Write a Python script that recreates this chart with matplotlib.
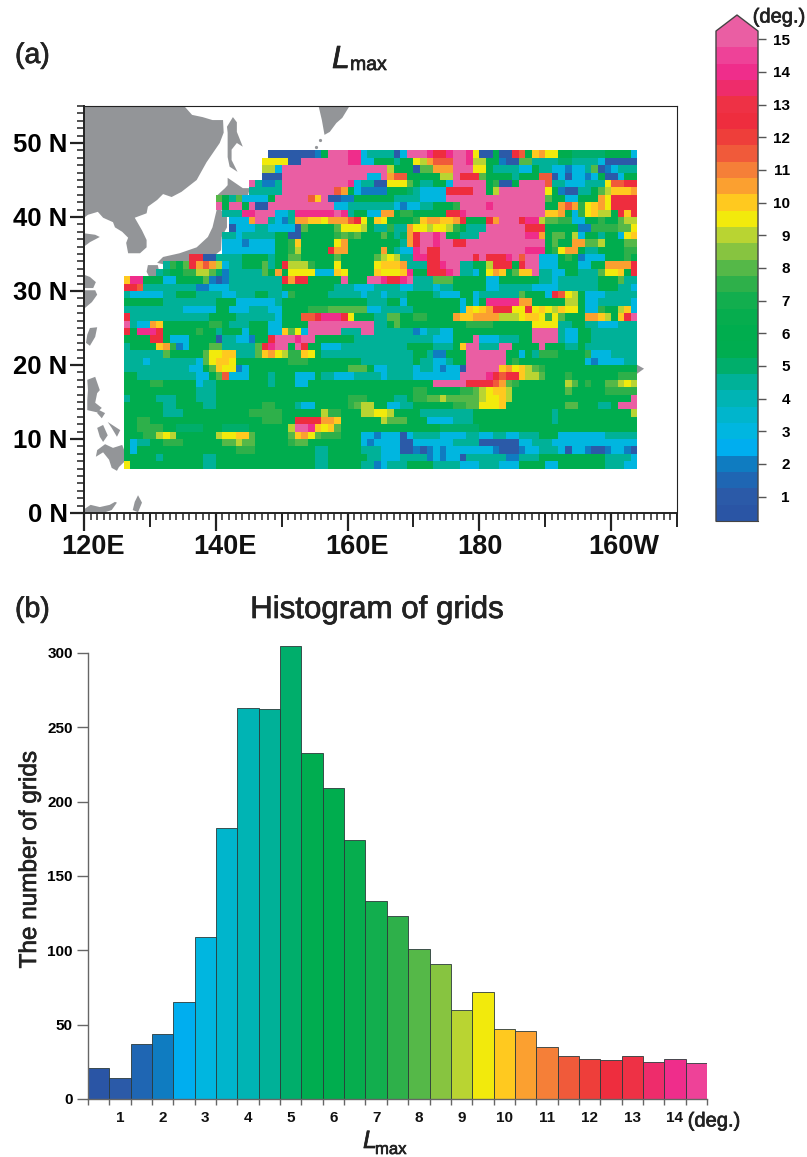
import numpy as np
import matplotlib
matplotlib.use('Agg')
import matplotlib.pyplot as plt
import matplotlib.patheffects as pe
from matplotlib.colors import ListedColormap, BoundaryNorm
from matplotlib.ticker import MultipleLocator

plt.rcParams['font.family'] = ['Liberation Sans', 'DejaVu Sans']

# colour bands, 0.5 deg wide, from 0.25 up to 15.25
band_colors = ['#2a55a5', '#2b5aa8', '#1f66b3', '#0f7cc1', '#00aeef', '#00b6e0', '#00b5cc', '#00b4b4',
               '#00b198', '#00ae6b', '#00ad50', '#00ad4e', '#06ad4e', '#12ae4e', '#2eb04a', '#55b848',
               '#87c440', '#b9d432', '#f2ea0c', '#ffc91f', '#fba030', '#f57f38', '#f05a3a', '#ee3e3a',
               '#ee2d3e', '#ee3145', '#ee2c6b', '#ef2d8b', '#ee4298', '#ea5ea3']
band_edges = [0.25 + 0.5 * i for i in range(31)]

# Lmax per 1 degree cell, top row is 48-49N, first column is 126-127E
class_values = {'1': 1, '2': 2, '3': 3, '4': 4.5, '5': 5, '6': 6, '7': 7.5, '8': 8, '9': 8.75,
                'y': 9.25, 'o': 9.75, 'r': 10.5, 's': 11.25, 'd': 12.25, 'e': 13.75, 'p': 15}
grid_rows = [
    ".......... .......... ..11111112 6pppee3444 413pppedde ppey11611d s6oryy6655 55566663",
    ".......... .......... .yyyy11ppp ppppee3366 6466y9rsss ppe9966211 8844445544 44311111",
    ".......... .......... .993pppppp pppppppppp 9666188rrr pppyy64444 3364433233 48123444",
    ".......... .......... .111pppppp ppppppp33p rss6666699 pddd866664 666ss13133 23611366",
    ".......... .........p 4224pppppp ppppe34411 yyy8644663 ppppp67116 pppps44333 444yssdd",
    ".......... .........4 4444pppppp ppsr632222 666543333d dddpp69ppp ppppy62114 4689ooor",
    ".......... ....864833 336pppppso p112266666 644443333p pppppppppp pppp866336 66rydddd",
    ".......... ....p6pp6p 11pppppppp pp33444444 4323344666 7ppppepppp pppp66rsr7 yorydddd",
    ".......... .....444ee ppp334eeee eepe46633r r67766666d depppppppp ppppoor637 yo996dod",
    ".......... ......333r pp4324rroo yrrrsdy6oy 66667orroo rd666drppp dee9887733 66766899",
    ".......... ......1333 4433331866 668yyy9644 744ryy9yy9 76444ppppp pddd666662 2777788y",
    ".......... .....44344 4446611666 6678786668 645rdppep6 6444pppppp peer688693 664663yo",
    ".......... .....33323 333667o666 66yr666666 664rdppepp ddpppppppp pppp6866rr 88966688",
    ".......... .....33333 3336679666 6drr66666r 6433epddpp pppppppppp peee67yrr6 44666677",
    ".......... dd11444466 6646688666 6686666689 y944eeddpp pppdpdddep spp3336762 33366676",
    "......4768 drsr934466 6846d99976 66y66666yo oor444ddep p44669ddd6 dpp3336663 366rrrrd",
    ".....45667 7998524444 486r6yyyy3 33oy6666oy yyoe66ddde p4436yro68 oop4433664 448yyo6d",
    "oee6663366 6682124444 4444drdd66 666p666ppe ddep444888 6666633666 6664434444 44666844",
    "dds4444444 4223334444 4444666666 6644433344 4433444344 6666633444 4433334444 44666443",
    "4333334466 6444433444 6644376666 6444443443 4446666433 3663444444 86663dsy96 33344444",
    "6666664444 4444666333 3334666666 6666666444 6636666666 63636eeeee rr66666996 33444443",
    "4444444443 3333663334 4433666677 7888888334 4444666666 63oyordddy ydyoy9oyy6 337669o3",
    "d444444444 4446666444 4443666ssd eeedy66644 8866776666 roorrrr999 yooy7y8666 rro96odp",
    "p433ro6666 6667764446 66336666pp pppppppp44 6866666666 6677776666 66yyyy4466 44333444",
    "d6eeed6666 6766466636 6633o8y3pp ppp444pp44 4444234433 6666666666 66pppp4336 64444444",
    "6666dd6333 6666144332 66dpppepp6 6666644444 4444444333 666p333444 66pppp4336 64444444",
    "46666or723 6668844444 8depp6pd66 3334444444 4446666444 6opp444pp6 666p666446 44444444",
    "4444448666 668yyoo444 8ory977oy6 4444444444 4444664226 66pppppp66 3647776666 73334444",
    "4443444444 438yooy666 6666677766 6666664444 4444644334 66pppppp67 6666666666 32333344",
    "4444444444 3368oyy236 6666666666 6666888633 4444344323 31pppppory o987666666 66666666",
    "6644444444 43368s3336 6646663336 4433344443 4444333333 3ppppedsdd o998666766 66666777",
    "6666776666 6344666666 6646663366 6666666666 6666666ppp ppddddsr87 6666666986 766889y9",
    "6666666666 6444666666 6666666666 6666666666 6666776666 67789yoo96 6666666866 66677777",
    "4666644466 6444666666 6666666666 6666777666 6446778898 88889yyo96 6666666666 6666666p",
    "6666664466 6644666666 6776664336 6666789966 3344666666 7788yyyo66 6666666886 66446ppp",
    "6666664446 6666666667 7777666666 97766699yy 9666644444 4446666666 6666646666 66666669",
    "6677666666 6666666666 677766dddd rro6666669 8886663333 4446666666 6666646666 66666666",
    "6677776655 5566655556 666669ppeo yo86666666 6666666655 5555666666 6666666666 66666666",
    "666779y966 66669yyoo8 666668ory8 7776663323 3313444433 3344334433 4446663333 33344444",
    "6344667776 6666688988 6666678866 6666663233 3311333333 4444111111 3344433333 33333333",
    "6366666666 6666666777 6666666664 4666664443 3311212323 3333332111 2334443133 21123321",
    "6666646666 6644666666 6666666664 4666666443 3344442323 3144444422 4446666666 66644443",
    "y666666666 6644666666 6666666664 4666664423 4446666444 4333444333 6666336666 66644433",
]

# coastlines, lon/lat
continent = [(120, 55), (135.2, 55), (136.4, 53.8), (138, 53.5), (139.5, 53.1), (141.1, 53.1), (141.2, 51.4),
             (140.6, 50), (138.6, 47.4), (137.1, 45), (134.8, 43.4), (133.3, 42.7), (132, 43.1), (131.1, 42.3),
             (129.7, 41.4), (129.5, 40.5), (127.7, 39.9), (128.8, 38.2), (129.5, 36.9), (129.5, 35.9), (128.5, 35.1),
             (126.7, 35.1), (126.4, 36.5), (126.7, 37.2), (125.8, 38), (124.7, 38.6), (124.4, 39.3), (122.9, 39.9),
             (122.1, 40.7), (120.6, 40.3), (120, 39.9)]
islands = [
    [(120, 37.8), (121.7, 37.6), (122.4, 37.3), (120.9, 36.6), (120, 36)],
    [(120, 32.2), (120.9, 31.9), (121.8, 31.2), (121.4, 30.4), (120, 30.4)],
    [(120, 30.1), (121.7, 30.1), (122, 29.5), (121.2, 28.5), (120, 27.6)],
    [(120.9, 25), (122, 25.1), (121.7, 23.8), (120.9, 22.6), (120.3, 23), (120.5, 24.1)],
    [(120.5, 18), (121.7, 18.4), (122.4, 16.6), (122, 16.2), (121.7, 14.9), (122.7, 14.2), (122, 13.6),
     (120.5, 13.9), (120.5, 15.3), (120.6, 16.6)],
    [(125.8, 9.2), (126.1, 8.5), (126.1, 6.9), (125.3, 6.2), (125, 5.7), (124.2, 6.1), (123.8, 7.2), (122.9, 8.2),
     (121.8, 7.6), (122, 8.5), (123.2, 9.3), (124.4, 8.8)],
    [(122, 11.5), (122.9, 11.9), (123.6, 10.5), (122.9, 9.6), (122.4, 10.3)],
    [(123.6, 12.3), (125.5, 11.2), (125, 10.3), (124.2, 11.5)],
    [(122.1, 14), (123.2, 13.5), (122.7, 12.8), (122, 13.5)],
    [(120, 0.5), (121, 1.1), (122.4, 0.8), (123.9, 1.1), (124.7, 1.5), (125, 1.4), (124.2, 0.4), (123.2, 0.1), (120, 0.1)],
    [(128.2, 2.4), (128.8, 1.4), (128.2, 0.1), (127.4, 0.4), (127.7, 1.5)],
    [(141.8, 45.3), (144.1, 43.9), (145.2, 43.9), (144.8, 42.7), (143.2, 42.7), (141.4, 42.7), (140.2, 42.7),
     (140.3, 43), (141.4, 43.9), (141.8, 44.3)],
    [(141.7, 52.2), (142.6, 53.5), (143.2, 52.8), (143.2, 51.5), (144.1, 49.5), (143.2, 50), (142.4, 49.1),
     (142.4, 47.7), (143.3, 46.1), (142.1, 46.8), (141.8, 48.1), (141.8, 50), (141.8, 51.4)],
    [(155.6, 55), (160.3, 55), (159.2, 53.4), (158.3, 52.7), (157.3, 51.5), (156.5, 51.1), (156.1, 53.1)],
    [(140.2, 41.2), (141.7, 40.5), (141.7, 38.6), (140.9, 37.3), (140.8, 35.5), (139.5, 34.6), (137.6, 34.2),
     (135.6, 33.8), (132.6, 33.5), (131.1, 33.8), (132, 34.6), (134.5, 35.1), (137.1, 35.9), (138.8, 37.3), (139.5, 38.6)],
    [(129.7, 33.5), (131.2, 33.5), (131.5, 32.2), (130.3, 31.2), (129.5, 32.6)],
    [(132, 33.9), (134.1, 33.8), (133, 33.1), (132, 33.2)],
    [(203.8, 20.1), (205, 19.5), (203.9, 18.8)],
]
small_isles_lon = [200.2, 201.7, 203.2, 155.2, 155.8]
small_isles_lat = [22, 21.4, 20.7, 49.4, 50.4]

lon_ticks = [120, 140, 160, 180, 200]
lon_labels = ['120E', '140E', '160E', '180', '160W']
lon_label_shift = [1.4, 1.4, 1.4, 0.1, 1.9]
lat_ticks = [0, 10, 20, 30, 40, 50]
lat_labels = ['0 N', '10 N', '20 N', '30 N', '40 N', '50 N']

# histogram, one bar per colour band
hist_counts = [21, 14, 37, 44, 65, 109, 182, 263, 262, 305, 233, 209, 174, 133, 123, 101, 91, 60, 72, 47,
               46, 35, 29, 27, 26, 29, 25, 27, 24]
hist_ticks = [0, 50, 100, 150, 200, 250, 300]
hist_labels = [1, 2, 3, 4, 5, 6, 7, 8, 9, 10, 11, 12, 13, 14]
cbar_ticks = list(range(1, 16))

W, H = 807, 1157
heavy = [pe.withStroke(linewidth=0.5, foreground='#222222')]


def px_axes(left, top, right, bottom):
    return fig.add_axes([left / W, 1 - bottom / H, (right - left) / W, (bottom - top) / H])


def px_text(x, y, s, **kw):
    fig.text(x / W, 1 - y / H, s, color='#222222', path_effects=heavy, **kw)


fig = plt.figure(figsize=(W / 100, H / 100), dpi=100)
dark = '#222222'

# (a) map
ax = px_axes(84, 106, 677, 513)
ax.set_xlim(120, 210)
ax.set_ylim(0, 55)
ax.fill(*zip(*continent), color='#939598', lw=0, zorder=1)
for isl in islands:
    ax.fill(*zip(*isl), color='#939598', lw=0, zorder=1)
ax.plot(small_isles_lon, small_isles_lat, ls='none', marker='o', ms=1.3, color='#939598', zorder=1)

rows = [r.replace(' ', '') for r in grid_rows]
lmax = np.array([[class_values.get(c, np.nan) for c in r] for r in rows])
lon_edges = np.arange(126, 205)
lat_edges = np.arange(49, 5, -1)
cmap = ListedColormap(band_colors)
norm = BoundaryNorm(band_edges, cmap.N)
ax.pcolormesh(lon_edges, lat_edges, lmax, cmap=cmap, norm=norm, zorder=2)

ax.set_xticks(lon_ticks)
ax.set_xticklabels([])
ax.set_yticks(lat_ticks)
ax.set_yticklabels(lat_labels, fontsize=18.5, fontweight='bold')
ax.xaxis.set_minor_locator(MultipleLocator(1))
ax.yaxis.set_minor_locator(MultipleLocator(1))
ax.tick_params(axis='x', which='major', length=13, width=1.6, color=dark)
ax.tick_params(axis='y', which='major', length=9.8, width=1.6, color=dark, pad=2)
ax.tick_params(which='minor', length=5, width=1.1, color=dark)
for s in ['left', 'bottom']:
    ax.spines[s].set_linewidth(1.4)
    ax.spines[s].set_color(dark)
for s in ['top', 'right']:
    ax.spines[s].set_linewidth(0.8)
    ax.spines[s].set_color(dark)
for lon, lab, dx in zip(lon_ticks, lon_labels, lon_label_shift):
    ax.text(lon + dx, -0.0835, lab, transform=ax.get_xaxis_transform(), ha='center', va='center',
            fontsize=19.5, fontweight='bold', color='#111111')
# the 10 degree ticks are longer than the rest
sec = ax.secondary_xaxis('bottom')
sec.set_xticks([130, 150, 170, 190, 210])
sec.set_xticklabels([])
sec.tick_params(length=10, width=1.4, color=dark)
sec.spines['bottom'].set_visible(False)

px_text(15, 56, '(a)', fontsize=20.5, ha='left', va='center')
px_text(332, 68, 'L', fontsize=23, fontstyle='italic', ha='left', va='baseline')
px_text(350, 70, 'max', fontsize=14, ha='left', va='baseline')

# colour bar
cax = px_axes(716, 15, 758, 521)
top_val = 15.25 + 16 / 32.6
cax.set_xlim(0, 1)
cax.set_ylim(0.25, top_val)
cax.bar(0.5, 0.5, width=1, bottom=band_edges[:-1], color=band_colors, lw=0)
cax.fill([0, 0.5, 1], [15.25, top_val, 15.25], color=band_colors[-1], lw=0)
cax.plot([0, 0, 0.5, 1, 1], [0.25, 15.25, top_val, 15.25, 0.25], color='#444444', lw=1.0, clip_on=False)
cax.plot([0, 1], [0.25, 0.25], color='#444444', lw=0.8, clip_on=False)
for s in cax.spines.values():
    s.set_visible(False)
cax.set_xticks([])
cax.yaxis.tick_right()
cax.set_yticks(cbar_ticks)
cax.set_yticklabels(cbar_ticks, fontsize=11, fontweight='bold', ha='right')
cax.tick_params(axis='y', length=6, width=1.0, color='#555555', pad=17)
px_text(779, 17, '(deg.)', fontsize=14.5, ha='center', va='center')

# (b) histogram
hx = px_axes(88, 640, 707, 1099)
hx.set_xlim(band_edges[0], band_edges[29])
hx.set_ylim(0, 459 / 1.4867)
hx.bar(band_edges[:29], hist_counts, width=0.5, align='edge', color=band_colors[:29],
       edgecolor='#2b3a3a', linewidth=0.6)
for s in ['top', 'right']:
    hx.spines[s].set_visible(False)
hx.spines['left'].set_bounds(0, 300)
for s in ['left', 'bottom']:
    hx.spines[s].set_color('#666666')
    hx.spines[s].set_linewidth(1.0)
hx.set_yticks(hist_ticks)
hx.set_yticklabels(hist_ticks, fontsize=11, fontweight='bold')
hx.tick_params(axis='y', length=8, width=1.0, color='#666666', pad=3)
hx.set_xticks(band_edges[:30])
hx.set_xticklabels([])
hx.tick_params(axis='x', length=4, width=1.0, color='#666666')
for v in hist_labels:
    hx.text(v, -0.0415, str(v), transform=hx.get_xaxis_transform(), ha='center', va='center',
            fontsize=11, fontweight='bold', color='#111111')
px_text(714, 1121, '(deg.)', fontsize=14.5, ha='center', va='center')
px_text(15, 610, '(b)', fontsize=20.5, ha='left', va='center')
px_text(377, 610, 'Histogram of grids', fontsize=22.5, ha='center', va='center')
px_text(30, 860, 'The number of grids', fontsize=17.5, rotation=90, ha='center', va='center')
px_text(363, 1148, 'L', fontsize=18, fontstyle='italic', ha='left', va='baseline')
px_text(375, 1154, 'max', fontsize=12, ha='left', va='baseline')

fig.savefig('out.png', dpi=100)
